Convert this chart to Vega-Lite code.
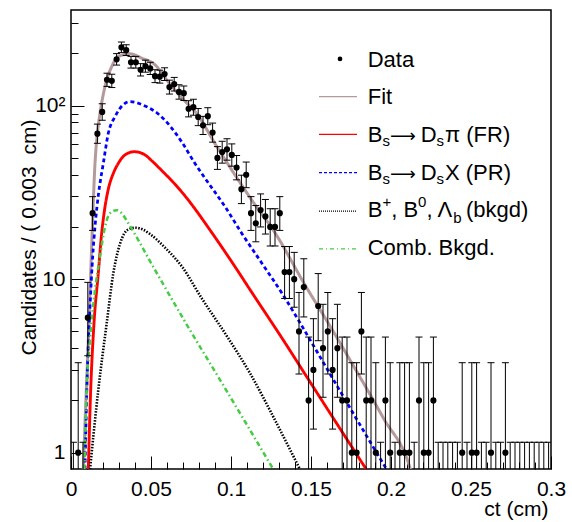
{
  "$schema": "https://vega.github.io/schema/vega-lite/v6.json",
  "width": 480,
  "height": 459,
  "autosize": {"type": "none"},
  "padding": {"left": 71, "top": 10, "right": 21, "bottom": 53},
  "background": "white",
  "config": {
    "view": {"stroke": "#000", "strokeWidth": 1.5},
    "font": "Liberation Sans",
    "axis": {"labelOverlap": false, "labelFlush": false, "labelBound": false},
    "text": {"font": "Liberation Sans", "fontSize": 22, "align": "left", "baseline": "alphabetic", "color": "#000"}
  },
  "data": {"values": [{}]},
  "datasets": {
    "bins": [
      {"ct":0.0015,"lo":0,"hi":0.003,"n":0,"elo":0.01,"ehi":1.148},
      {"ct":0.0045,"lo":0.003,"hi":0.006,"n":1,"elo":0.173,"ehi":3.3},
      {"ct":0.0075,"lo":0.006,"hi":0.009,"n":0,"elo":0.01,"ehi":1.148},
      {"ct":0.0105,"lo":0.009,"hi":0.012,"n":6,"elo":3.62,"ehi":9.584},
      {"ct":0.0135,"lo":0.012,"hi":0.015,"n":24,"elo":19.1,"ehi":29.9},
      {"ct":0.0165,"lo":0.015,"hi":0.018,"n":69,"elo":60.69,"ehi":78.31},
      {"ct":0.0195,"lo":0.018,"hi":0.021,"n":92,"elo":82.41,"ehi":102.59},
      {"ct":0.0225,"lo":0.021,"hi":0.024,"n":141,"elo":129.13,"ehi":153.87},
      {"ct":0.0255,"lo":0.024,"hi":0.027,"n":139,"elo":127.21,"ehi":151.79},
      {"ct":0.0285,"lo":0.027,"hi":0.03,"n":185,"elo":171.4,"ehi":199.6},
      {"ct":0.0315,"lo":0.03,"hi":0.033,"n":217,"elo":202.27,"ehi":232.73},
      {"ct":0.0345,"lo":0.033,"hi":0.036,"n":209,"elo":194.54,"ehi":224.46},
      {"ct":0.0375,"lo":0.036,"hi":0.039,"n":178,"elo":164.66,"ehi":192.34},
      {"ct":0.0405,"lo":0.039,"hi":0.042,"n":178,"elo":164.66,"ehi":192.34},
      {"ct":0.0435,"lo":0.042,"hi":0.045,"n":161,"elo":148.31,"ehi":174.69},
      {"ct":0.0465,"lo":0.045,"hi":0.048,"n":169,"elo":156,"ehi":183},
      {"ct":0.0495,"lo":0.048,"hi":0.051,"n":164,"elo":151.19,"ehi":177.81},
      {"ct":0.0525,"lo":0.051,"hi":0.054,"n":148,"elo":135.83,"ehi":161.17},
      {"ct":0.0555,"lo":0.054,"hi":0.057,"n":147,"elo":134.88,"ehi":160.12},
      {"ct":0.0585,"lo":0.057,"hi":0.06,"n":152,"elo":139.67,"ehi":165.33},
      {"ct":0.0615,"lo":0.06,"hi":0.063,"n":128,"elo":116.69,"ehi":140.31},
      {"ct":0.0645,"lo":0.063,"hi":0.066,"n":133,"elo":121.47,"ehi":145.53},
      {"ct":0.0675,"lo":0.066,"hi":0.069,"n":120,"elo":109.05,"ehi":131.95},
      {"ct":0.0705,"lo":0.069,"hi":0.072,"n":118,"elo":107.14,"ehi":129.86},
      {"ct":0.0735,"lo":0.072,"hi":0.075,"n":96,"elo":86.2,"ehi":106.8},
      {"ct":0.0765,"lo":0.075,"hi":0.078,"n":98,"elo":88.1,"ehi":108.9},
      {"ct":0.0795,"lo":0.078,"hi":0.081,"n":86,"elo":76.73,"ehi":96.27},
      {"ct":0.0825,"lo":0.081,"hi":0.084,"n":77,"elo":68.23,"ehi":86.78},
      {"ct":0.0855,"lo":0.084,"hi":0.087,"n":87,"elo":77.67,"ehi":97.33},
      {"ct":0.0885,"lo":0.087,"hi":0.09,"n":70,"elo":61.63,"ehi":79.37},
      {"ct":0.0915,"lo":0.09,"hi":0.093,"n":50,"elo":42.93,"ehi":58.07},
      {"ct":0.0945,"lo":0.093,"hi":0.096,"n":54,"elo":46.65,"ehi":62.35},
      {"ct":0.0975,"lo":0.096,"hi":0.099,"n":56,"elo":48.52,"ehi":64.48},
      {"ct":0.1005,"lo":0.099,"hi":0.102,"n":52,"elo":44.79,"ehi":60.21},
      {"ct":0.1035,"lo":0.102,"hi":0.105,"n":44,"elo":37.37,"ehi":51.63},
      {"ct":0.1065,"lo":0.105,"hi":0.108,"n":33,"elo":27.26,"ehi":39.74},
      {"ct":0.1095,"lo":0.108,"hi":0.111,"n":40,"elo":33.68,"ehi":47.32},
      {"ct":0.1125,"lo":0.111,"hi":0.114,"n":24,"elo":19.1,"ehi":29.9},
      {"ct":0.1155,"lo":0.114,"hi":0.117,"n":21,"elo":16.42,"ehi":26.58},
      {"ct":0.1185,"lo":0.117,"hi":0.12,"n":25,"elo":20,"ehi":31},
      {"ct":0.1215,"lo":0.12,"hi":0.123,"n":23,"elo":18.2,"ehi":28.8},
      {"ct":0.1245,"lo":0.123,"hi":0.126,"n":20,"elo":15.53,"ehi":25.47},
      {"ct":0.1275,"lo":0.126,"hi":0.129,"n":20,"elo":15.53,"ehi":25.47},
      {"ct":0.1305,"lo":0.129,"hi":0.132,"n":24,"elo":19.1,"ehi":29.9},
      {"ct":0.1335,"lo":0.132,"hi":0.135,"n":11,"elo":7.734,"ehi":15.42},
      {"ct":0.1365,"lo":0.135,"hi":0.138,"n":11,"elo":7.734,"ehi":15.42},
      {"ct":0.1395,"lo":0.138,"hi":0.141,"n":10,"elo":6.891,"ehi":14.27},
      {"ct":0.1425,"lo":0.141,"hi":0.144,"n":5,"elo":2.84,"ehi":8.382},
      {"ct":0.1455,"lo":0.144,"hi":0.147,"n":9,"elo":6.057,"ehi":13.11},
      {"ct":0.1485,"lo":0.147,"hi":0.15,"n":2,"elo":0.708,"ehi":4.638},
      {"ct":0.1515,"lo":0.15,"hi":0.153,"n":3,"elo":1.367,"ehi":5.918},
      {"ct":0.1545,"lo":0.153,"hi":0.156,"n":7,"elo":4.419,"ehi":10.77},
      {"ct":0.1575,"lo":0.156,"hi":0.159,"n":4,"elo":2.086,"ehi":7.163},
      {"ct":0.1605,"lo":0.159,"hi":0.162,"n":5,"elo":2.84,"ehi":8.382},
      {"ct":0.1635,"lo":0.162,"hi":0.165,"n":3,"elo":1.367,"ehi":5.918},
      {"ct":0.1665,"lo":0.165,"hi":0.168,"n":4,"elo":2.086,"ehi":7.163},
      {"ct":0.1695,"lo":0.168,"hi":0.171,"n":2,"elo":0.708,"ehi":4.638},
      {"ct":0.1725,"lo":0.171,"hi":0.174,"n":2,"elo":0.708,"ehi":4.638},
      {"ct":0.1755,"lo":0.174,"hi":0.177,"n":1,"elo":0.173,"ehi":3.3},
      {"ct":0.1785,"lo":0.177,"hi":0.18,"n":1,"elo":0.173,"ehi":3.3},
      {"ct":0.1815,"lo":0.18,"hi":0.183,"n":5,"elo":2.84,"ehi":8.382},
      {"ct":0.1845,"lo":0.183,"hi":0.186,"n":2,"elo":0.708,"ehi":4.638},
      {"ct":0.1875,"lo":0.186,"hi":0.189,"n":2,"elo":0.708,"ehi":4.638},
      {"ct":0.1905,"lo":0.189,"hi":0.192,"n":1,"elo":0.173,"ehi":3.3},
      {"ct":0.1935,"lo":0.192,"hi":0.195,"n":0,"elo":0.01,"ehi":1.148},
      {"ct":0.1965,"lo":0.195,"hi":0.198,"n":2,"elo":0.708,"ehi":4.638},
      {"ct":0.1995,"lo":0.198,"hi":0.201,"n":1,"elo":0.173,"ehi":3.3},
      {"ct":0.2025,"lo":0.201,"hi":0.204,"n":0,"elo":0.01,"ehi":1.148},
      {"ct":0.2055,"lo":0.204,"hi":0.207,"n":1,"elo":0.173,"ehi":3.3},
      {"ct":0.2085,"lo":0.207,"hi":0.21,"n":1,"elo":0.173,"ehi":3.3},
      {"ct":0.2115,"lo":0.21,"hi":0.213,"n":1,"elo":0.173,"ehi":3.3},
      {"ct":0.2145,"lo":0.213,"hi":0.216,"n":0,"elo":0.01,"ehi":1.148},
      {"ct":0.2175,"lo":0.216,"hi":0.219,"n":2,"elo":0.708,"ehi":4.638},
      {"ct":0.2205,"lo":0.219,"hi":0.222,"n":1,"elo":0.173,"ehi":3.3},
      {"ct":0.2235,"lo":0.222,"hi":0.225,"n":1,"elo":0.173,"ehi":3.3},
      {"ct":0.2265,"lo":0.225,"hi":0.228,"n":2,"elo":0.708,"ehi":4.638},
      {"ct":0.2295,"lo":0.228,"hi":0.231,"n":0,"elo":0.01,"ehi":1.148},
      {"ct":0.2325,"lo":0.231,"hi":0.234,"n":0,"elo":0.01,"ehi":1.148},
      {"ct":0.2355,"lo":0.234,"hi":0.237,"n":0,"elo":0.01,"ehi":1.148},
      {"ct":0.2385,"lo":0.237,"hi":0.24,"n":0,"elo":0.01,"ehi":1.148},
      {"ct":0.2415,"lo":0.24,"hi":0.243,"n":0,"elo":0.01,"ehi":1.148},
      {"ct":0.2445,"lo":0.243,"hi":0.246,"n":1,"elo":0.173,"ehi":3.3},
      {"ct":0.2475,"lo":0.246,"hi":0.249,"n":0,"elo":0.01,"ehi":1.148},
      {"ct":0.2505,"lo":0.249,"hi":0.252,"n":1,"elo":0.173,"ehi":3.3},
      {"ct":0.2535,"lo":0.252,"hi":0.255,"n":1,"elo":0.173,"ehi":3.3},
      {"ct":0.2565,"lo":0.255,"hi":0.258,"n":0,"elo":0.01,"ehi":1.148},
      {"ct":0.2595,"lo":0.258,"hi":0.261,"n":0,"elo":0.01,"ehi":1.148},
      {"ct":0.2625,"lo":0.261,"hi":0.264,"n":1,"elo":0.173,"ehi":3.3},
      {"ct":0.2655,"lo":0.264,"hi":0.267,"n":0,"elo":0.01,"ehi":1.148},
      {"ct":0.2685,"lo":0.267,"hi":0.27,"n":0,"elo":0.01,"ehi":1.148},
      {"ct":0.2715,"lo":0.27,"hi":0.273,"n":1,"elo":0.173,"ehi":3.3},
      {"ct":0.2745,"lo":0.273,"hi":0.276,"n":0,"elo":0.01,"ehi":1.148},
      {"ct":0.2775,"lo":0.276,"hi":0.279,"n":0,"elo":0.01,"ehi":1.148},
      {"ct":0.2805,"lo":0.279,"hi":0.282,"n":0,"elo":0.01,"ehi":1.148},
      {"ct":0.2835,"lo":0.282,"hi":0.285,"n":0,"elo":0.01,"ehi":1.148},
      {"ct":0.2865,"lo":0.285,"hi":0.288,"n":0,"elo":0.01,"ehi":1.148},
      {"ct":0.2895,"lo":0.288,"hi":0.291,"n":0,"elo":0.01,"ehi":1.148},
      {"ct":0.2925,"lo":0.291,"hi":0.294,"n":0,"elo":0.01,"ehi":1.148},
      {"ct":0.2955,"lo":0.294,"hi":0.297,"n":0,"elo":0.01,"ehi":1.148},
      {"ct":0.2985,"lo":0.297,"hi":0.3,"n":0,"elo":0.01,"ehi":1.148}
    ],
    "curves": [
      {"c":"Fit","x":0.00769,"y":0.8},{"c":"Fit","x":0.00875,"y":1.48},{"c":"Fit","x":0.01081,"y":4.47},
      {"c":"Fit","x":0.01231,"y":10.8},{"c":"Fit","x":0.0133,"y":19.2},{"c":"Fit","x":0.015,"y":46.5},
      {"c":"Fit","x":0.01625,"y":66},{"c":"Fit","x":0.018125,"y":90.3},{"c":"Fit","x":0.02125,"y":129},
      {"c":"Fit","x":0.02544,"y":168},{"c":"Fit","x":0.02956,"y":192},{"c":"Fit","x":0.036875,"y":199},
      {"c":"Fit","x":0.04419,"y":188},{"c":"Fit","x":0.0525,"y":172},{"c":"Fit","x":0.06081,"y":137},
      {"c":"Fit","x":0.07125,"y":106},{"c":"Fit","x":0.0775,"y":92.3},{"c":"Fit","x":0.09206,"y":56.3},
      {"c":"Fit","x":0.11294,"y":28.6},{"c":"Fit","x":0.1275,"y":18.5},{"c":"Fit","x":0.14625,"y":9.26},
      {"c":"Fit","x":0.16188,"y":5.37},{"c":"Fit","x":0.174375,"y":3.42},{"c":"Fit","x":0.19519,"y":1.585},
      {"c":"Fit","x":0.211875,"y":0.816},{"c":"Fit","x":0.2125,"y":0.78},
      {"c":"FR","x":0.01081,"y":0.8},{"c":"FR","x":0.01231,"y":2.3},{"c":"FR","x":0.014375,"y":5.57},
      {"c":"FR","x":0.01706,"y":10.8},{"c":"FR","x":0.01906,"y":18},{"c":"FR","x":0.02081,"y":24.5},
      {"c":"FR","x":0.02331,"y":33},{"c":"FR","x":0.02644,"y":40.7},{"c":"FR","x":0.02956,"y":46.5},
      {"c":"FR","x":0.03375,"y":52},{"c":"FR","x":0.03956,"y":54.3},{"c":"FR","x":0.04625,"y":52},
      {"c":"FR","x":0.05063,"y":48},{"c":"FR","x":0.05669,"y":42.3},{"c":"FR","x":0.06313,"y":36.8},
      {"c":"FR","x":0.07125,"y":30.2},{"c":"FR","x":0.0775,"y":25.4},{"c":"FR","x":0.086875,"y":19.2},
      {"c":"FR","x":0.1025,"y":11.8},{"c":"FR","x":0.11188,"y":8.7},{"c":"FR","x":0.13375,"y":4.3},
      {"c":"FR","x":0.14831,"y":2.65},{"c":"FR","x":0.16394,"y":1.58},{"c":"FR","x":0.18481,"y":0.795},
      {"c":"PR","x":0.00875,"y":0.8},{"c":"PR","x":0.01019,"y":2.87},{"c":"PR","x":0.011875,"y":6.93},
      {"c":"PR","x":0.01356,"y":13.5},{"c":"PR","x":0.01519,"y":21},{"c":"PR","x":0.01719,"y":31},
      {"c":"PR","x":0.02019,"y":46.5},{"c":"PR","x":0.02331,"y":69.3},{"c":"PR","x":0.0275,"y":86.4},
      {"c":"PR","x":0.036875,"y":105.5},{"c":"PR","x":0.04625,"y":99.6},{"c":"PR","x":0.05456,"y":89.6},
      {"c":"PR","x":0.061875,"y":76.4},{"c":"PR","x":0.06919,"y":61.8},{"c":"PR","x":0.0775,"y":46.4},
      {"c":"PR","x":0.08375,"y":38.2},
      {"c":"PR","x":0.09625,"y":26.2},{"c":"PR","x":0.10669,"y":18.4},{"c":"PR","x":0.11919,"y":12.4},
      {"c":"PR","x":0.13375,"y":7.79},{"c":"PR","x":0.14206,"y":5.82},{"c":"PR","x":0.16394,"y":2.64},
      {"c":"PR","x":0.18481,"y":1.245},{"c":"PR","x":0.19731,"y":0.8},
      {"c":"bkgd","x":0.011875,"y":0.8},{"c":"bkgd","x":0.01706,"y":2.3},{"c":"bkgd","x":0.02231,"y":5.57},
      {"c":"bkgd","x":0.02644,"y":10.8},{"c":"bkgd","x":0.030625,"y":16},{"c":"bkgd","x":0.035625,"y":19.3},
      {"c":"bkgd","x":0.04,"y":19.8},{"c":"bkgd","x":0.045,"y":19.3},{"c":"bkgd","x":0.04938,"y":18.2},
      {"c":"bkgd","x":0.05875,"y":15.2},{"c":"bkgd","x":0.06938,"y":11.8},{"c":"bkgd","x":0.08169,"y":7.76},
      {"c":"bkgd","x":0.09831,"y":4.56},{"c":"bkgd","x":0.11188,"y":2.87},{"c":"bkgd","x":0.1275,"y":1.54},
      {"c":"bkgd","x":0.14313,"y":0.8},
      {"c":"comb","x":0.00844,"y":0.8},{"c":"comb","x":0.00981,"y":2.3},{"c":"comb","x":0.011875,"y":4.47},
      {"c":"comb","x":0.015,"y":8.67},{"c":"comb","x":0.018125,"y":13.5},{"c":"comb","x":0.02125,"y":20},
      {"c":"comb","x":0.024375,"y":24},{"c":"comb","x":0.02856,"y":25},{"c":"comb","x":0.03169,"y":24},
      {"c":"comb","x":0.03581,"y":21},{"c":"comb","x":0.0525,"y":11.3},{"c":"comb","x":0.07375,"y":5.2},
      {"c":"comb","x":0.093125,"y":2.63},{"c":"comb","x":0.11188,"y":1.35},{"c":"comb","x":0.1265,"y":0.8}
    ]
  },
  "layer": [
    {
      "data": {"name": "curves"},
      "mark": {"type": "line", "clip": true, "interpolate": "monotone"},
      "encoding": {
        "x": {
          "field": "x", "type": "quantitative",
          "scale": {"domain": [0, 0.3], "nice": false, "zero": false},
          "axis": {
            "title": "ct (cm)",
            "values": [0,0.01,0.02,0.03,0.04,0.05,0.06,0.07,0.08,0.09,0.1,0.11,0.12,0.13,0.14,0.15,0.16,0.17,0.18,0.19,0.2,0.21,0.22,0.23,0.24,0.25,0.26,0.27,0.28,0.29,0.3],
            "tickCount": 100,
            "labelExpr": "abs(datum.value*20-round(datum.value*20))<0.001 ? format(datum.value,'~g') : ''",
            "tickSize": {"condition": {"test": "abs(datum.value*20-round(datum.value*20))<0.001", "value": -13}, "value": -7},
            "tickColor": "#000", "tickWidth": 1, "domain": false, "grid": false,
            "labelFont": "Liberation Sans", "labelFontSize": 21, "labelColor": "#000",
            "labelPadding": 22, "labelBaseline": "top", "labelFlush": false, "labelOverlap": false,
            "titleFont": "Liberation Sans", "titleFontSize": 21, "titleFontWeight": "normal", "titleColor": "#000",
            "titleAlign": "right", "titleAnchor": "end", "titleX": 477, "titleY": 46, "titleBaseline": "alphabetic"
          }
        },
        "y": {
          "field": "y", "type": "quantitative",
          "scale": {"type": "log", "domain": [0.805, 356], "nice": false},
          "axis": {
            "title": "Candidates / ( 0.003\u00a0 cm)",
            "values": [1,2,3,4,5,6,7,8,9,10,20,30,40,50,60,70,80,90,100,200,300],
            "tickCount": 100,
            "labelExpr": "datum.value==1 ? '1' : datum.value==10 ? '10' : datum.value==100 ? '10²' : ''",
            "tickSize": {"condition": {"test": "datum.value==1 || datum.value==10 || datum.value==100", "value": -13}, "value": -7},
            "tickColor": "#000", "tickWidth": 1, "domain": false, "grid": false,
            "labelFont": "Liberation Sans", "labelFontSize": 21, "labelColor": "#000",
            "labelPadding": 19, "labelFlush": false, "labelOverlap": false,
            "titleFont": "Liberation Sans", "titleFontSize": 21, "titleFontWeight": "normal", "titleColor": "#000",
            "titleAngle": 270, "titleAlign": "center", "titleX": -36, "titleY": 227, "titleBaseline": "alphabetic"
          }
        },
        "color": {"field": "c", "type": "nominal", "legend": null,
          "scale": {"domain": ["Fit","FR","PR","bkgd","comb"], "range": ["#b59a9c","#ff0000","#0000ff","#000000","#44cc44"]}},
        "strokeDash": {"field": "c", "type": "nominal", "legend": null,
          "scale": {"domain": ["Fit","FR","PR","bkgd","comb"], "range": [[1,0],[1,0],[4,3],[1.5,1.5],[5,3,1.5,3]]}},
        "strokeWidth": {"field": "c", "type": "nominal", "legend": null,
          "scale": {"domain": ["Fit","FR","PR","bkgd","comb"], "range": [3,2.5,3,2,2]}}
      }
    },
    {
      "data": {"name": "bins"},
      "mark": {"type": "rule", "color": "#000", "strokeWidth": 1, "clip": true},
      "encoding": {
        "x": {"field": "ct", "type": "quantitative"},
        "y": {"field": "elo", "type": "quantitative"},
        "y2": {"field": "ehi"}
      }
    },
    {
      "data": {"name": "bins"},
      "mark": {"type": "tick", "orient": "horizontal", "size": 7, "thickness": 1, "color": "#000", "opacity": 1, "clip": true},
      "encoding": {
        "x": {"field": "ct", "type": "quantitative"},
        "y": {"field": "ehi", "type": "quantitative"}
      }
    },
    {
      "data": {"name": "bins"},
      "mark": {"type": "tick", "orient": "horizontal", "size": 7, "thickness": 1, "color": "#000", "opacity": 1, "clip": true},
      "encoding": {
        "x": {"field": "ct", "type": "quantitative"},
        "y": {"field": "elo", "type": "quantitative"}
      }
    },
    {
      "data": {"name": "bins"},
      "transform": [{"filter": "datum.n > 0"}],
      "mark": {"type": "rule", "color": "#000", "strokeWidth": 1, "clip": true},
      "encoding": {
        "x": {"field": "lo", "type": "quantitative"},
        "x2": {"field": "hi"},
        "y": {"field": "n", "type": "quantitative"}
      }
    },
    {
      "data": {"name": "bins"},
      "transform": [{"filter": "datum.n > 0"}],
      "mark": {"type": "circle", "color": "#000", "size": 38, "opacity": 1, "clip": true},
      "encoding": {
        "x": {"field": "ct", "type": "quantitative"},
        "y": {"field": "n", "type": "quantitative"}
      }
    },
    {"mark": {"type": "circle", "color": "#000", "size": 22, "opacity": 1},
     "encoding": {"x": {"datum": 0.16813, "type": "quantitative"}, "y": {"datum": 185.9, "type": "quantitative"}}},
    {"mark": {"type": "rule", "color": "#b59a9c", "strokeWidth": 1.2},
     "encoding": {"x": {"datum": 0.155, "type": "quantitative"}, "x2": {"datum": 0.17875}, "y": {"datum": 112.7, "type": "quantitative"}}},
    {"mark": {"type": "rule", "color": "#ff0000", "strokeWidth": 1.2},
     "encoding": {"x": {"datum": 0.155, "type": "quantitative"}, "x2": {"datum": 0.17875}, "y": {"datum": 68.4, "type": "quantitative"}}},
    {"mark": {"type": "rule", "color": "#0000ff", "strokeWidth": 1.2, "strokeDash": [3, 2]},
     "encoding": {"x": {"datum": 0.155, "type": "quantitative"}, "x2": {"datum": 0.17875}, "y": {"datum": 41.1, "type": "quantitative"}}},
    {"mark": {"type": "rule", "color": "#000000", "strokeWidth": 1.2, "strokeDash": [1, 1]},
     "encoding": {"x": {"datum": 0.155, "type": "quantitative"}, "x2": {"datum": 0.17875}, "y": {"datum": 24.7, "type": "quantitative"}}},
    {"mark": {"type": "rule", "color": "#44cc44", "strokeWidth": 1.2, "strokeDash": [4, 3, 1, 3]},
     "encoding": {"x": {"datum": 0.155, "type": "quantitative"}, "x2": {"datum": 0.17875}, "y": {"datum": 14.93, "type": "quantitative"}}},
    {"mark": {"type": "text", "text": "Data"},
     "encoding": {"x": {"datum": 0.18544, "type": "quantitative"}, "y": {"datum": 167.8, "type": "quantitative"}}},
    {"mark": {"type": "text", "text": "Fit"},
     "encoding": {"x": {"datum": 0.18544, "type": "quantitative"}, "y": {"datum": 101.7, "type": "quantitative"}}},
    {"mark": {"type": "text", "text": "B"},
     "encoding": {"x": {"datum": 0.18544, "type": "quantitative"}, "y": {"datum": 61.7, "type": "quantitative"}}},
    {"mark": {"type": "text", "text": "s", "fontSize": 15, "dy": 4},
     "encoding": {"x": {"datum": 0.19463, "type": "quantitative"}, "y": {"datum": 61.7, "type": "quantitative"}}},
    {"mark": {"type": "text", "text": "⟶", "font": "DejaVu Sans", "fontSize": 18},
     "encoding": {"x": {"datum": 0.19938, "type": "quantitative"}, "y": {"datum": 61.7, "type": "quantitative"}}},
    {"mark": {"type": "text", "text": "D"},
     "encoding": {"x": {"datum": 0.21856, "type": "quantitative"}, "y": {"datum": 61.7, "type": "quantitative"}}},
    {"mark": {"type": "text", "text": "s", "fontSize": 15, "dy": 4},
     "encoding": {"x": {"datum": 0.2285, "type": "quantitative"}, "y": {"datum": 61.7, "type": "quantitative"}}},
    {"mark": {"type": "text", "text": "π (FR)"},
     "encoding": {"x": {"datum": 0.23375, "type": "quantitative"}, "y": {"datum": 61.7, "type": "quantitative"}}},
    {"mark": {"type": "text", "text": "B"},
     "encoding": {"x": {"datum": 0.18544, "type": "quantitative"}, "y": {"datum": 37.4, "type": "quantitative"}}},
    {"mark": {"type": "text", "text": "s", "fontSize": 15, "dy": 4},
     "encoding": {"x": {"datum": 0.19463, "type": "quantitative"}, "y": {"datum": 37.4, "type": "quantitative"}}},
    {"mark": {"type": "text", "text": "⟶", "font": "DejaVu Sans", "fontSize": 18},
     "encoding": {"x": {"datum": 0.19938, "type": "quantitative"}, "y": {"datum": 37.4, "type": "quantitative"}}},
    {"mark": {"type": "text", "text": "D"},
     "encoding": {"x": {"datum": 0.21856, "type": "quantitative"}, "y": {"datum": 37.4, "type": "quantitative"}}},
    {"mark": {"type": "text", "text": "s", "fontSize": 15, "dy": 4},
     "encoding": {"x": {"datum": 0.2285, "type": "quantitative"}, "y": {"datum": 37.4, "type": "quantitative"}}},
    {"mark": {"type": "text", "text": "X (PR)"},
     "encoding": {"x": {"datum": 0.23375, "type": "quantitative"}, "y": {"datum": 37.4, "type": "quantitative"}}},
    {"mark": {"type": "text", "text": "B"},
     "encoding": {"x": {"datum": 0.18544, "type": "quantitative"}, "y": {"datum": 22.7, "type": "quantitative"}}},
    {"mark": {"type": "text", "text": "+", "fontSize": 15, "dy": -10},
     "encoding": {"x": {"datum": 0.19463, "type": "quantitative"}, "y": {"datum": 22.7, "type": "quantitative"}}},
    {"mark": {"type": "text", "text": ", B"},
     "encoding": {"x": {"datum": 0.20013, "type": "quantitative"}, "y": {"datum": 22.7, "type": "quantitative"}}},
    {"mark": {"type": "text", "text": "0", "fontSize": 15, "dy": -10},
     "encoding": {"x": {"datum": 0.21694, "type": "quantitative"}, "y": {"datum": 22.7, "type": "quantitative"}}},
    {"mark": {"type": "text", "text": ", Λ"},
     "encoding": {"x": {"datum": 0.22213, "type": "quantitative"}, "y": {"datum": 22.7, "type": "quantitative"}}},
    {"mark": {"type": "text", "text": "b", "fontSize": 15, "dy": 6},
     "encoding": {"x": {"datum": 0.23894, "type": "quantitative"}, "y": {"datum": 22.7, "type": "quantitative"}}},
    {"mark": {"type": "text", "text": "(bkgd)"},
     "encoding": {"x": {"datum": 0.24688, "type": "quantitative"}, "y": {"datum": 22.7, "type": "quantitative"}}},
    {"mark": {"type": "text", "text": "Comb. Bkgd."},
     "encoding": {"x": {"datum": 0.18544, "type": "quantitative"}, "y": {"datum": 13.75, "type": "quantitative"}}}
  ]
}
